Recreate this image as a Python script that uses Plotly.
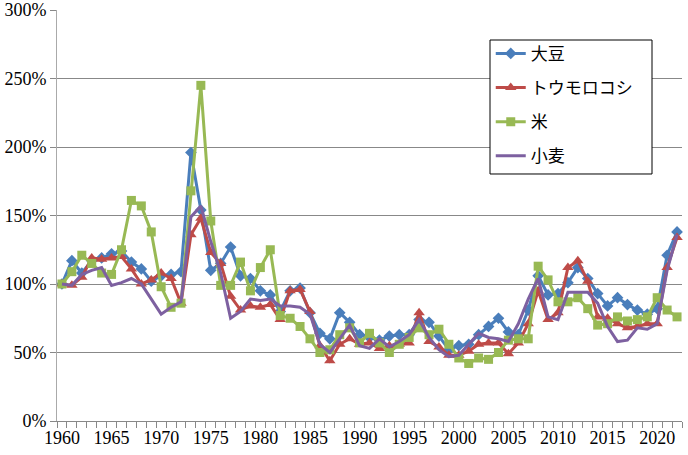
"""Price index of grains (1960 = 100%) by year."""

import plotly.graph_objects as go

years = list(range(1960, 2023))

soybean = [
    100, 117, 108, 117, 119, 122, 124, 116, 111, 102,
    106, 107, 109, 196, 154, 110, 115, 127, 106, 104,
    95, 92, 80, 95, 97, 79, 64, 60, 79, 72,
    63, 61, 59, 62, 63, 63, 74, 72, 62, 52,
    55, 56, 63, 69, 75, 65, 63, 81, 106, 92,
    93, 101, 112, 104, 93, 84, 90, 85, 81, 78,
    82, 121, 138,
]
corn = [
    100, 99, 105, 119, 118, 119, 120, 111, 100, 103,
    108, 104, 86, 136, 148, 123, 115, 91, 81, 84,
    83, 85, 74, 95, 96, 80, 55, 44, 56, 60,
    56, 57, 53, 55, 56, 57, 79, 58, 54, 48,
    48, 51, 56, 57, 57, 49, 57, 71, 95, 74,
    79, 112, 117, 102, 76, 75, 71, 68, 69, 71,
    71, 112, 134,
]
rice = [
    100, 109, 121, 115, 108, 107, 125, 161, 157, 138,
    98, 83, 86, 168, 245, 146, 99, 99, 116, 95,
    112, 125, 77, 75, 69, 60, 50, 52, 63, 68,
    57, 64, 57, 50, 56, 61, 68, 63, 67, 56,
    46, 42, 46, 45, 50, 59, 60, 60, 113, 103,
    87, 87, 90, 82, 70, 71, 76, 73, 74, 76,
    90, 81, 76,
]
wheat = [
    100, 99, 107, 110, 112, 99, 101, 104, 100, 89,
    78, 83, 87, 149, 157, 131, 108, 75, 80, 89,
    88, 89, 84, 84, 83, 78, 56, 50, 60, 70,
    55, 53, 60, 54, 58, 63, 74, 61, 52, 47,
    48, 56, 64, 61, 60, 58, 71, 89, 104, 76,
    74, 94, 94, 94, 86, 69, 58, 59, 68, 67,
    71, 110, 136,
]

series = [
    ("大豆", soybean, "#4A7EBB", "diamond", 9),
    ("トウモロコシ", corn, "#BE4B48", "triangle-up", 10),
    ("米", rice, "#98B954", "square", 9),
    ("小麦", wheat, "#7D60A0", None, 0),
]


def main():
    fig = go.Figure()

    for name, values, color, symbol, size in series:
        fig.add_trace(go.Scatter(
            x=years,
            y=[v / 100 for v in values],
            name=name,
            legendgroup=name,
            mode="lines+markers" if symbol else "lines",
            line={"color": color, "width": 3},
            marker={"symbol": symbol, "size": size, "color": color} if symbol else None,
            cliponaxis=False,
        ))

    # legend frame drawn as a shape (the legend's own border didn't render reliably)
    fig.add_shape(
        type="rect", xref="paper", yref="paper",
        x0=0.6928, x1=0.952, y0=0.601, y1=0.927,
        line={"color": "black", "width": 1},
        fillcolor="white", layer="above",
    )

    fig.update_layout(
        width=688,
        height=455,
        margin={"l": 57, "r": 6, "t": 10, "b": 34},
        paper_bgcolor="white",
        plot_bgcolor="white",
        font={"family": "Liberation Serif", "size": 18, "color": "black"},
        showlegend=True,
        legend={
            "x": 0.694, "y": 0.937, "xanchor": "left", "yanchor": "top",
            "borderwidth": 0, "bgcolor": "rgba(0,0,0,0)",
            "font": {"family": "Noto Sans CJK JP", "size": 17},
            "tracegroupgap": 9,
        },
        xaxis={
            "range": [1959.5, 2022.5],
            "automargin": False,
            "tickmode": "array",
            "tickvals": list(range(1960, 2021, 5)),
            "showgrid": False,
            "showline": True,
            "linecolor": "#888888",
            "ticks": "",
            "zeroline": False,
            "minor": {"tickmode": "array",
                      "tickvals": [y + 0.5 for y in range(1959, 2023)],
                      "ticks": "outside", "ticklen": 6, "tickcolor": "#888888"},
        },
        yaxis={
            "range": [0, 3],
            "automargin": False,
            "tickformat": ".0%",
            "dtick": 0.5,
            "showgrid": True,
            "gridcolor": "#888888",
            "gridwidth": 1,
            "showline": True,
            "linecolor": "#aaaaaa",
            "ticks": "outside",
            "ticklen": 6,
            "tickcolor": "#888888",
            "zeroline": False,
        },
    )

    # page body has a default 8px margin; drop it so the figure fills the window
    fig.write_html(
        "out.html",
        config={"displayModeBar": False},
        post_script="document.body.style.margin = '0';",
    )


if __name__ == "__main__":
    main()
